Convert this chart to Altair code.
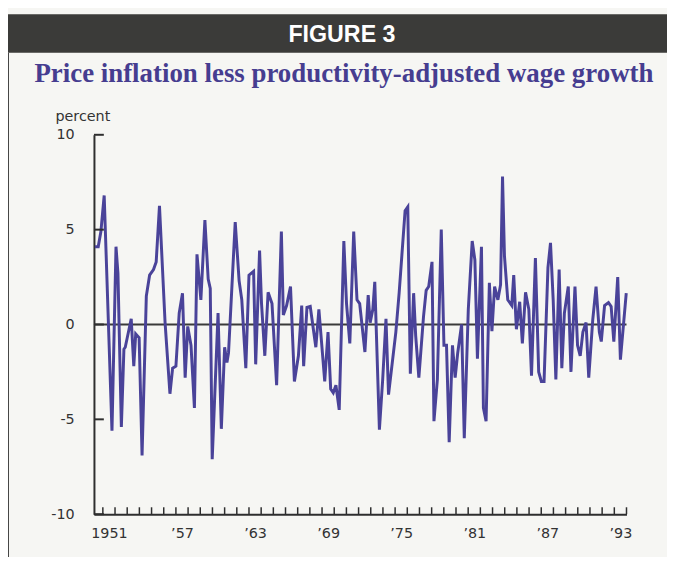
import altair as alt
import pandas as pd

# Quarterly-ish vertices (decimal year, percent)
years = [1950.35, 1950.62, 1950.84, 1951.11, 1951.75, 1952.08, 1952.24, 1952.52, 1952.73, 1952.84,
         1953.33, 1953.54, 1953.70, 1953.98, 1954.22, 1954.57, 1954.84, 1955.16, 1955.38, 1955.65,
         1956.11, 1956.51, 1956.73, 1957.00, 1957.27, 1957.54, 1957.76, 1957.97, 1958.24, 1958.52,
         1958.73, 1959.05, 1959.38, 1959.65, 1959.82, 1959.98, 1960.46, 1960.73, 1961.00, 1961.19,
         1961.32, 1961.87, 1962.19, 1962.41, 1962.74, 1963.00, 1963.38, 1963.55, 1963.87, 1964.03,
         1964.30, 1964.57, 1964.89, 1965.27, 1965.66, 1965.82, 1966.09, 1966.41, 1966.73, 1967.06,
         1967.33, 1967.49, 1967.76, 1968.03, 1968.49, 1968.74, 1968.98, 1969.22, 1969.49, 1969.71,
         1969.92, 1970.14, 1970.41, 1970.79, 1971.01, 1971.28, 1971.60, 1971.87, 1972.09, 1972.52,
         1972.79, 1972.95, 1973.17, 1973.33, 1973.71, 1973.98, 1974.25, 1974.46, 1975.06, 1975.33,
         1975.82, 1976.04, 1976.25, 1976.52, 1976.69, 1976.95, 1977.33, 1977.55, 1977.76, 1978.03,
         1978.19, 1978.47, 1978.79, 1979.01, 1979.22, 1979.44, 1979.71, 1979.93, 1980.14, 1980.46,
         1980.68, 1981.01, 1981.33, 1981.55, 1981.76, 1982.09, 1982.25, 1982.47, 1982.74, 1982.95,
         1983.17, 1983.44, 1983.66, 1983.82, 1983.98, 1984.25, 1984.58, 1984.74, 1984.96, 1985.23,
         1985.45, 1985.71, 1985.98, 1986.20, 1986.52, 1986.79, 1987.01, 1987.23, 1987.55, 1987.76,
         1987.98, 1988.20, 1988.47, 1988.69, 1988.90, 1989.22, 1989.44, 1989.77, 1989.98, 1990.20,
         1990.42, 1990.68, 1990.90, 1991.23, 1991.50, 1991.77, 1991.93, 1992.20, 1992.52, 1992.74,
         1992.96, 1993.28, 1993.50, 1993.98]
values = [4.1, 4.1, 4.9, 6.8, -5.6, 4.1, 2.7, -5.4, -1.3, -1.2,
          0.3, -2.2, -0.5, -0.7, -6.9, 1.5, 2.6, 2.9, 3.3, 6.25,
          0.1, -3.65, -2.3, -2.2, 0.6, 1.65, -2.8, -0.1, -1.1, -4.4,
          3.7, 1.3, 5.5, 2.4, 1.9, -7.1, 0.6, -5.5, -1.2, -2.0,
          -1.5, 5.4, 2.3, 1.3, -2.3, 2.6, 2.8, -2.1, 3.9, 1.1,
          -1.65, 1.7, 1.1, -3.2, 4.9, 0.5, 1.0, 2.0, -3.0, -1.65,
          1.0, -2.2, 0.9, 0.95, -1.2, 0.8, -1.1, -3.0, -0.4, -3.4,
          -3.6, -3.2, -4.5, 4.4, 1.1, -1.0, 4.9, 1.3, 1.1, -1.45,
          1.55, 0.1, 0.8, 2.25, -5.55, -2.9, 0.3, -3.7, -0.4, 1.65,
          6.0, 6.2, -2.6, 1.65, -0.6, -2.8, 0.4, 1.8, 2.0, 3.3,
          -5.1, -2.9, 5.0, -1.1, -1.1, -6.2, -1.1, -2.8, -1.5, 0.0,
          -6.0, 0.8, 4.4, 3.4, -1.8, 4.1, -4.4, -5.1, 2.2, -0.35,
          2.0, 1.3, 2.1, 7.8, 3.6, 1.3, 1.0, 2.6, -0.25, 1.2,
          -1.0, 1.7, 0.8, -2.7, 3.5, -2.5, -3.0, -3.0, 3.0, 4.3,
          1.3, -2.9, 2.9, -2.3, 0.6, 2.0, -2.5, 2.0, -1.1, -1.65,
          -0.4, 0.1, -2.8, 0.25, 2.0, -0.4, -0.9, 1.0, 1.15, 0.95,
          -0.9, 2.5, -1.85, 1.65]

y_ticks = [-10, -5, 0, 5, 10]
year_ticks = list(range(1951, 1995))
label_positions = [1951.5, 1957.5, 1963.5, 1969.5, 1975.5, 1981.5, 1987.5, 1993.5]

W, H = 539, 384
X_DOMAIN = [1950.27, 1994.0]
LINE = "#4a4399"
DARK = "#2e2e2e"
FONT = "DejaVu Sans"
FS = 14.5

df = pd.DataFrame({"year": years, "value": values})
xscale = alt.Scale(domain=X_DOMAIN, nice=False, zero=False)
yscale = alt.Scale(domain=[-10, 10], nice=False)

xaxis = alt.Axis(
    values=label_positions, tickSize=0, grid=False, title=None,
    labelExpr="datum.value < 1952 ? '1951' : '\u2019' + substring(toString(floor(datum.value)), 2, 4)",
    labelFont=FONT, labelFontSize=FS, labelColor="#333333", labelPadding=13,
    domainColor=DARK, domainWidth=2)
yaxis = alt.Axis(
    values=y_ticks, tickSize=0, grid=False, title=None,
    labelExpr="'' + datum.value",
    labelFont=FONT, labelFontSize=FS, labelColor="#333333", labelPadding=20,
    domainColor=DARK, domainWidth=2)

series = alt.Chart(df).mark_line(color=LINE, strokeWidth=3).encode(
    x=alt.X("year:Q", scale=xscale, axis=xaxis),
    y=alt.Y("value:Q", scale=yscale, axis=yaxis),
)

zero = alt.Chart(pd.DataFrame({"v": [0]})).mark_rule(color="#3a3a3a", strokeWidth=2).encode(
    y=alt.Y("v:Q", scale=yscale, axis=yaxis), x=alt.value(0), x2=alt.value(W))

yt = alt.Chart(pd.DataFrame({"v": y_ticks})).mark_rule(color=DARK, strokeWidth=2).encode(
    y=alt.Y("v:Q", scale=yscale, axis=yaxis), x=alt.value(0), x2=alt.value(10))

xt = alt.Chart(pd.DataFrame({"t": year_ticks})).mark_rule(color=DARK, strokeWidth=1.5).encode(
    x=alt.X("t:Q", scale=xscale, axis=xaxis), y=alt.value(H), y2=alt.value(H - 7))

header = alt.Chart(pd.DataFrame({"a": [0]})).mark_rect(color="#3b3b39").encode(
    x=alt.value(-88), x2=alt.value(580), y=alt.value(-122), y2=alt.value(-83))

fig = alt.Chart(pd.DataFrame({"a": [0]})).mark_text(
    text="FIGURE 3", font="Liberation Sans", fontWeight="bold", fontSize=23.5, color="white",
    align="center", baseline="middle").encode(x=alt.value(251), y=alt.value(-101))

title = alt.Chart(pd.DataFrame({"a": [0]})).mark_text(
    text="Price inflation less productivity-adjusted wage growth", font="Liberation Serif",
    fontWeight="bold", fontSize=27.2, color="#463d90", align="center",
    baseline="alphabetic").encode(x=alt.value(253), y=alt.value(-53))

unit = alt.Chart(pd.DataFrame({"a": [0]})).mark_text(
    text="percent", font=FONT, fontSize=FS, color="#333333", align="left",
    baseline="alphabetic").encode(x=alt.value(-39), y=alt.value(-14))

border = alt.Chart(pd.DataFrame({"a": [0]})).mark_rule(color="#444444", strokeWidth=2).encode(
    x=alt.value(-87), y=alt.value(-83), y2=alt.value(430))

chart = alt.layer(header, border, fig, title, unit, zero, series, yt, xt).properties(
    width=W, height=H,
    autosize=alt.AutoSizeParams(type="none"),
    padding={"left": 87, "top": 125, "right": 41, "bottom": 40},
    background="#f6f6f3",
).configure_view(stroke=None)

chart.save("out.html", embed_options={"renderer": "svg", "actions": False})
